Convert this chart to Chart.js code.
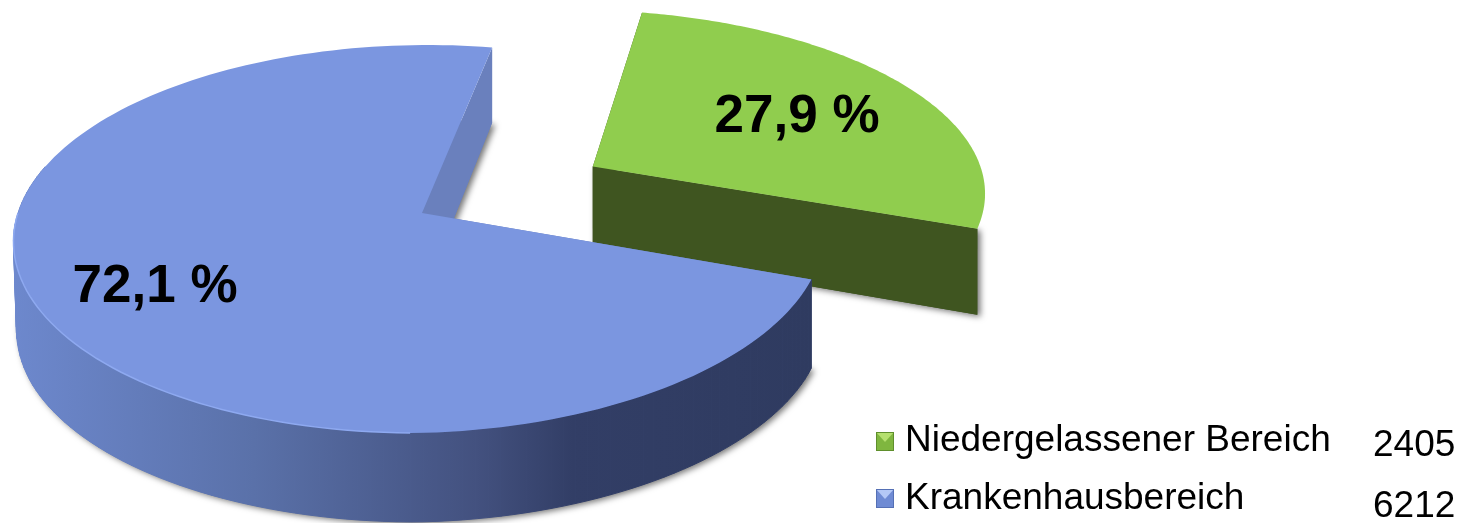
<!DOCTYPE html>
<html lang="de">
<head>
<meta charset="utf-8">
<title>Niedergelassener Bereich / Krankenhausbereich</title>
<style>
  html, body { margin: 0; padding: 0; background: #fff; overflow: hidden; }
  #wrap { width: 1463px; height: 523px; }
</style>
<script src="https://cdn.jsdelivr.net/npm/chart.js@4/dist/chart.umd.min.js"></script>
</head>
<body>
<div id="wrap"><canvas id="chart" width="1463" height="523"></canvas></div>
<script>
const categories = ['Niedergelassener Bereich', 'Krankenhausbereich'];
const values = [2405, 6212];
const percentLabels = ['27,9 %', '72,1 %'];

const topColors = ['#90cd4e', '#7b96e0'];
const wallColors = ['#3f5520', '#6a80bd'];
const labelPos = [[797, 132], [155, 302]];
const legendRows = [[451, 456, 432], [509, 517, 489]];

// perspective of the disc, fitted by eye on the reference
const cx = 422, cy = 213, R = 404, Rk = 190.5, p = 0.134;

const project = (u, v, z) => {
    const w = 1 + p * v;
    const right = Math.max(u, 0);
    let sx = u > 0 ? 0.988 : 1;
    if (z && u <= 0) sx = 0.993;
    return [
        cx + (R * u / w) * sx + 6 * v,
        cy - Rk * v / w - 4 * right * (1 - v) + z * Math.min(89, 85 - 10 * v)
    ];
};

const slicePoints = (arc) => {
    const off = arc.options.offset / arc.outerRadius;
    const mid = (arc.startAngle + arc.endAngle) / 2;
    const ox = Math.cos(mid) * off, oy = -Math.sin(mid) * off;
    const outer = [];
    const steps = 160;
    for (let i = 0; i <= steps; i++) {
        const a = arc.startAngle + (arc.endAngle - arc.startAngle) * i / steps;
        outer.push([ox + Math.cos(a), oy - Math.sin(a)]);
    }
    return { outer, apex: [ox, oy] };
};

const tracePoly = (ctx, pts) => {
    ctx.beginPath();
    pts.forEach((pt, i) => i ? ctx.lineTo(pt[0], pt[1]) : ctx.moveTo(pt[0], pt[1]));
    ctx.closePath();
};

const pie3d = {
    id: 'pie3d',
    beforeDatasetsDraw(chart) {
        const ctx = chart.ctx;
        const arcs = chart.getDatasetMeta(0).data;
        ctx.save();
        arcs.forEach((arc, i) => {
            const { outer, apex } = slicePoints(arc);
            const last = outer.length - 1;
            const top = outer.map(q => project(q[0], q[1], 0));
            const bottom = outer.map(q => project(q[0], q[1], 1));
            const apexTop = project(apex[0], apex[1], 0);
            const apexBottom = project(apex[0], apex[1], 1);

            // drop shadow under the slice
            ctx.save();
            ctx.shadowColor = 'rgba(0,0,0,0.55)';
            ctx.shadowBlur = 6;
            ctx.shadowOffsetX = 3;
            ctx.shadowOffsetY = 2;
            ctx.fillStyle = wallColors[i];
            if (i === 1) {
                tracePoly(ctx, [apexBottom].concat(bottom));
            } else {
                tracePoly(ctx, [apexTop, top[last], bottom[last], apexBottom]);
            }
            ctx.fill();
            ctx.restore();

            // radial walls
            ctx.fillStyle = wallColors[i];
            tracePoly(ctx, [apexTop, top[0], bottom[0], apexBottom]);
            ctx.fill();
            tracePoly(ctx, [apexTop, top[last], bottom[last], apexBottom]);
            ctx.fill();

            // rim, only the big slice shows one
            if (i === 1) {
                const rimFill = ctx.createLinearGradient(14, 0, 812, 0);
                rimFill.addColorStop(0, '#6d88cd');
                rimFill.addColorStop(0.3, '#5a71a9');
                rimFill.addColorStop(0.58, '#43517f');
                rimFill.addColorStop(0.7, '#323e66');
                rimFill.addColorStop(1, '#2f3b60');
                ctx.fillStyle = rimFill;
                ctx.strokeStyle = rimFill;
                ctx.lineWidth = 1;
                for (let k = 0; k < last; k++) {
                    if (outer[k][1] > 0.25) continue;
                    tracePoly(ctx, [top[k], top[k + 1], bottom[k + 1], bottom[k]]);
                    ctx.fill();
                    ctx.stroke();
                }
            }

            // top face
            ctx.fillStyle = arc.options.backgroundColor;
            tracePoly(ctx, [apexTop].concat(top));
            ctx.fill();

            // thin light edge on the front left of the big slice
            if (i === 1) {
                ctx.beginPath();
                let started = false;
                top.forEach((pt, k) => {
                    if (outer[k][1] > 0 || outer[k][0] > 0) return;
                    if (started) ctx.lineTo(pt[0], pt[1]);
                    else ctx.moveTo(pt[0], pt[1]);
                    started = true;
                });
                ctx.lineWidth = 1.5;
                ctx.strokeStyle = '#8ea9f0';
                ctx.stroke();
            }
        });

        ctx.fillStyle = '#000';
        ctx.textBaseline = 'alphabetic';
        ctx.textAlign = 'center';
        ctx.font = 'bold 53px "Liberation Sans", Arial, sans-serif';
        percentLabels.forEach((t, i) => ctx.fillText(t, labelPos[i][0], labelPos[i][1]));

        // legend with absolute numbers next to it
        const markerColors = [['#7fb63f', '#b5e06f', '#5f8f2c'], ['#6f8bd4', '#b4c8f6', '#5570b5']];
        ctx.textAlign = 'left';
        ctx.font = '37px "Liberation Sans", Arial, sans-serif';
        categories.forEach((c, i) => {
            const [textY, valueY, boxY] = legendRows[i];
            const m = markerColors[i];
            ctx.fillStyle = m[0];
            ctx.fillRect(876, boxY, 18, 19);
            ctx.fillStyle = m[1];
            tracePoly(ctx, [[876, boxY], [894, boxY], [885, boxY + 10]]);
            ctx.fill();
            ctx.strokeStyle = m[2];
            ctx.lineWidth = 1;
            ctx.strokeRect(876.5, boxY + 0.5, 17, 18);
            ctx.fillStyle = '#000';
            ctx.fillText(c, 905, textY);
            ctx.fillText(String(values[i]), 1373, valueY);
        });
        ctx.restore();
        return false;
    }
};

new Chart(document.getElementById('chart'), {
    type: 'pie',
    data: {
        labels: categories,
        datasets: [{
            data: values,
            backgroundColor: topColors,
            borderWidth: 0,
            offset: [105, 0]
        }]
    },
    options: {
        responsive: false,
        animation: false,
        rotation: 10.5,
        layout: { padding: 0 },
        plugins: { legend: { display: false }, tooltip: { enabled: false } }
    },
    plugins: [pie3d]
});
</script>
</body>
</html>
